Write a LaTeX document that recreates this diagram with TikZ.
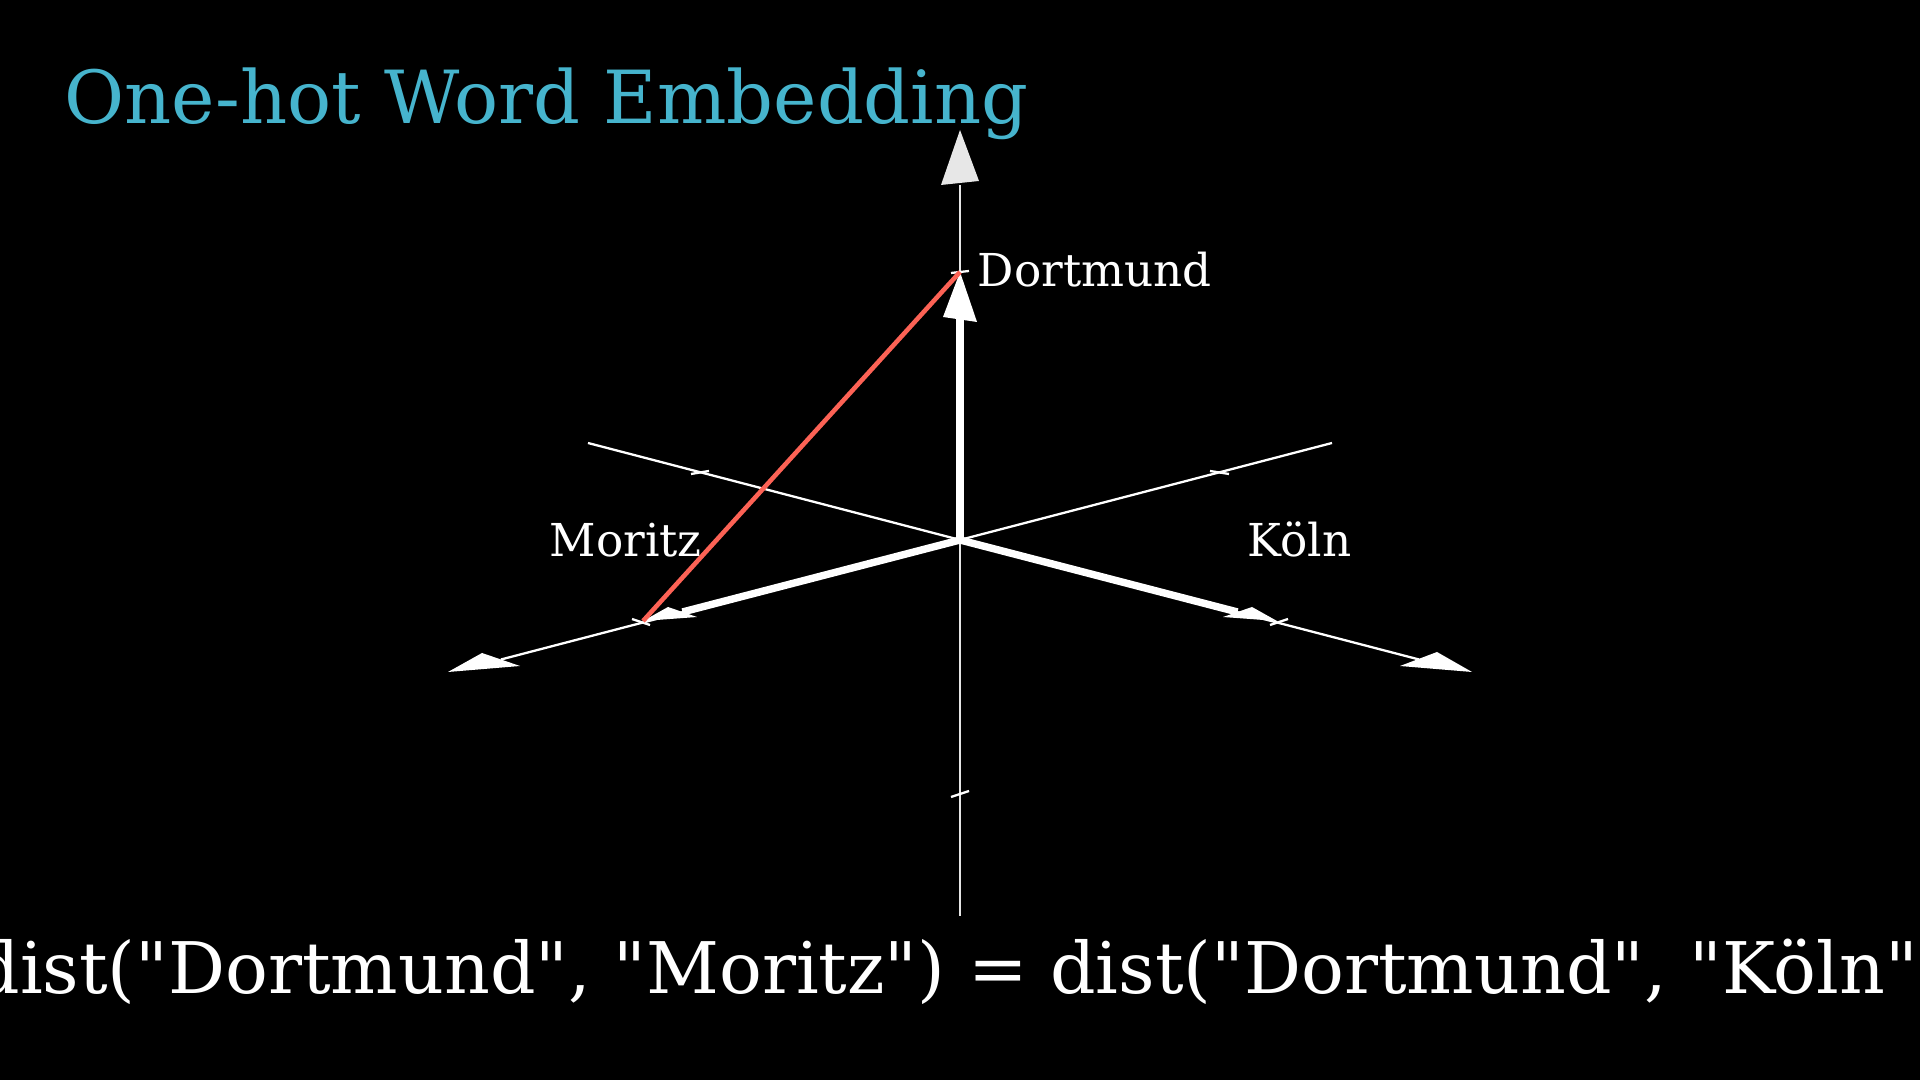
\documentclass[tikz,border=0pt]{standalone}
\usepackage{fontspec}
\setmainfont{DejaVu Serif}[Ligatures=TeXOff]
\usepackage{xcolor}
\usetikzlibrary{calc}

\definecolor{titleblue}{RGB}{70,180,205}
\definecolor{distred}{HTML}{FC6255}
\definecolor{axisgray}{gray}{0.9}

\begin{document}
\begin{tikzpicture}[
    % Styles
    axis/.style={draw=axisgray, line width=0.65pt},
    vec/.style={draw=white, line width=2.1pt},
    tickmark/.style={draw=white, line width=0.65pt},
    head/.style={fill=white},
    word/.style={text=white, inner sep=0pt, font=\fontsize{12.9}{16}\selectfont},
    bigtext/.style={inner sep=0pt, font=\fontsize{20.85}{25}\selectfont}
]

% ------------------- CANVAS -------------------
\useasboundingbox (0,0) rectangle (19.2,10.8);
\fill[black] (0,0) rectangle (19.2,10.8);
\clip (0,0) rectangle (19.2,10.8);

% ------------------- POINTS -------------------
\coordinate (O) at (9.6,5.4);
\coordinate (zlow) at (9.6,1.64);
\coordinate (zend) at (9.6,8.95);
\coordinate (lback) at (13.32,6.37);
\coordinate (lend) at (5.01,4.205);
\coordinate (rback) at (5.88,6.37);
\coordinate (rend) at (14.19,4.205);
\coordinate (dort) at (9.6,8.08);
\coordinate (mor) at (6.43,4.59);
\coordinate (koeln) at (12.77,4.59);

% ------------------- AXES -------------------
\draw[axis] (zlow) -- (zend);
\draw[axis, draw=white] (lback) -- (lend);
\draw[axis, draw=white] (rback) -- (rend);

\fill[axisgray!95] (9.60,9.50) -- (9.41,8.95) -- (9.79,8.99) -- cycle;
\fill[head] (4.48,4.08) -- (4.82,4.27) -- (5.20,4.14) -- cycle;
\fill[head] (14.72,4.08) -- (14.37,4.28) -- (14.00,4.14) -- cycle;

% ticks
\draw[tickmark] (9.51,8.07) -- (9.69,8.09);
\draw[tickmark] (9.51,2.83) -- (9.69,2.89);
\draw[tickmark] (6.91,6.06) -- (7.09,6.09);
\draw[tickmark] (6.32,4.61) -- (6.50,4.55);
\draw[tickmark] (12.10,6.09) -- (12.29,6.06);
\draw[tickmark] (12.70,4.55) -- (12.88,4.61);

% ------------------- ONE-HOT VECTORS -------------------
\draw[vec] (O) -- (9.6,7.62);
\draw[vec] (O) -- (6.825,4.68);
\draw[vec] (O) -- (12.375,4.68);

\fill[head] (dort) -- (9.43,7.63) -- (9.77,7.58) -- cycle;
\fill[head] (mor) -- (6.68,4.73) -- (6.97,4.63) -- cycle;
\fill[head] (koeln) -- (12.52,4.73) -- (12.23,4.63) -- cycle;

% distance
\draw[distred, line width=1.3pt] (mor) -- (dort);

% ------------------- LABELS -------------------
\node[word, anchor=base west] (ldort) at (9.77,7.93) {Dortmund};
\node[word, anchor=base west] (lmor) at (5.49,5.23) {Moritz};
\node[word, anchor=base west] (lkoeln) at (12.47,5.23) {Köln};

\node[bigtext, text=titleblue, anchor=base west] (title) at (0.64,9.56) {One-hot Word Embedding};
\node[bigtext, text=white, anchor=base, font=\fontsize{20.25}{25}\selectfont] (dist) at (9.6,0.86) {dist("Dortmund", "Moritz") = dist("Dortmund", "Köln")};

\end{tikzpicture}
\end{document}
